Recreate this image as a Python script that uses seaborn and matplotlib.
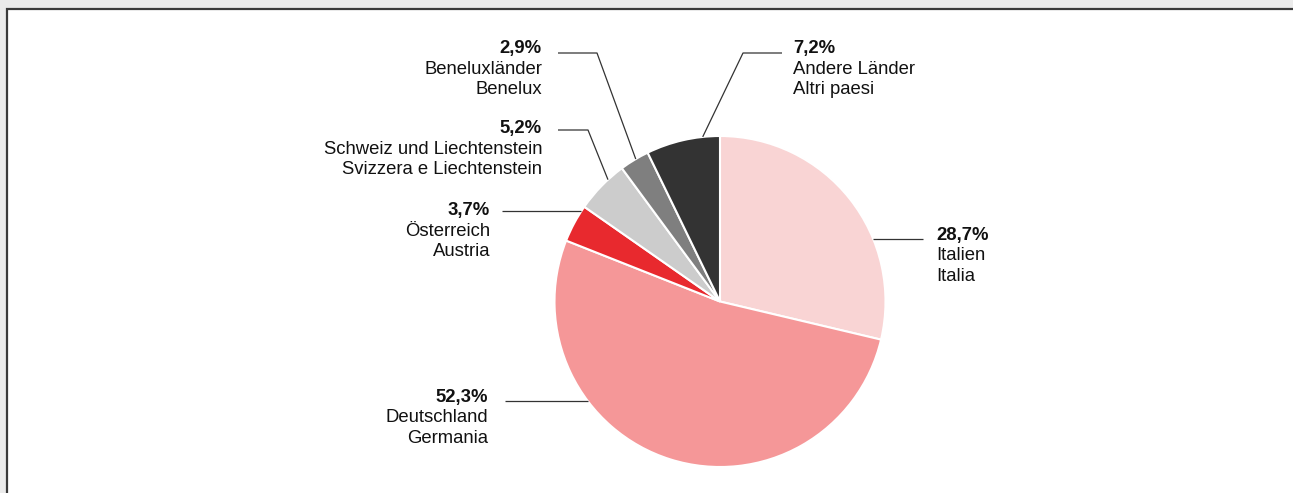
import numpy as np
import matplotlib
matplotlib.use("Agg")
import matplotlib.pyplot as plt
from matplotlib.patches import Rectangle
import seaborn as sns

# Data
labels_de = ["Italien", "Deutschland", "Österreich", "Schweiz und Liechtenstein",
             "Beneluxländer", "Andere Länder"]
labels_it = ["Italia", "Germania", "Austria", "Svizzera e Liechtenstein",
             "Benelux", "Altri paesi"]
shares = [28.7, 52.3, 3.7, 5.2, 2.9, 7.2]
colors = ["#f9d4d4", "#f59798", "#e8292e", "#cccccc", "#7f7f7f", "#333333"]

W, H = 1293, 493
CX, CY, R = 720, 301.5, 165.5

sns.set_theme(style="white")
plt.rcParams["font.family"] = ["Liberation Sans", "DejaVu Sans"]

fig = plt.figure(figsize=(W / 100, H / 100), dpi=100, facecolor="#ebebeb")
ax = fig.add_axes([0, 0, 1, 1])
ax.patch.set_alpha(0)


def py(y):
    # pixel row -> data y
    return H - y


wedges, _ = ax.pie(shares, colors=colors, startangle=90, counterclock=False,
                   center=(CX, py(CY)), radius=R,
                   wedgeprops=dict(edgecolor="white", linewidth=1.5))
for w in wedges:
    w.set_zorder(2)

# white panel with dark border (only top/left edges visible)
ax.add_patch(Rectangle((7, -20), W + 20, py(9) + 20, facecolor="white",
                       edgecolor="#3a3a3a", linewidth=1.6, zorder=0))

ax.set_xlim(0, W)
ax.set_ylim(0, H)
ax.set_aspect("equal")
ax.axis("off")


def circle_x(y, side):
    dy = y - CY
    return CX + side * np.sqrt(R ** 2 - dy ** 2)


def circle_pt(angle):
    a = np.radians(angle)
    return CX + R * np.cos(a), CY - R * np.sin(a)


# label layout: text x, baseline, alignment, leader line points (pixels)
layout = [
    (936, 240, "left", [(923, 239), (circle_x(239, 1), 239)]),
    (488, 402, "right", [(505, 401), (circle_x(401, -1), 401)]),
    (490, 215, "right", [(502, 211), (circle_x(211, -1), 211)]),
    (542, 133, "right", [(558, 130), (588, 130), circle_pt(132.6)]),
    (542, 53, "right", [(558, 53), (597, 53), circle_pt(120.6)]),
    (793, 53, "left", [(782, 53), (743, 53), circle_pt(96)]),
]

fs = 13.3
for (tx, base, ha, pts), share, de, it in zip(layout, shares, labels_de, labels_it):
    xs = [p[0] for p in pts]
    ys = [py(p[1]) for p in pts]
    ax.plot(xs, ys, color="#333333", lw=0.9, solid_capstyle="butt", zorder=3)
    ax.text(tx, py(base), f"{share:.1f}%".replace(".", ","), ha=ha,
            va="baseline", fontsize=fs, fontweight="bold", color="#111111")
    ax.text(tx, py(base + 20.5), de, ha=ha, va="baseline", fontsize=fs,
            color="#111111")
    ax.text(tx, py(base + 41), it, ha=ha, va="baseline", fontsize=fs,
            color="#111111")

fig.savefig("out.png", dpi=100, facecolor=fig.get_facecolor())
